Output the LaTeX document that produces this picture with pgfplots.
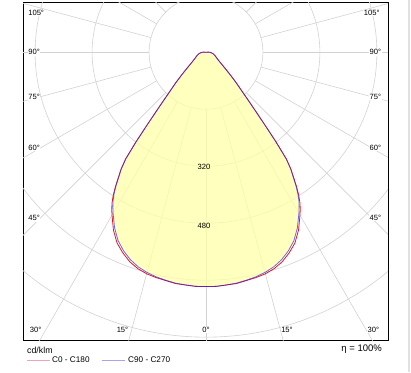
\documentclass[border=0pt]{standalone}
\usepackage{pgfplots}
\pgfplotsset{compat=1.18}
\usepackage{pgfplotstable}
\usepackage{fontspec}
\setmainfont{Liberation Sans}
\definecolor{gridc}{RGB}{210,210,210}
\definecolor{fillc}{RGB}{255,255,168}
\definecolor{cred}{RGB}{230,20,40}
\definecolor{cblue}{RGB}{50,40,230}
\definecolor{lred}{RGB}{235,165,185}
\definecolor{lblue}{RGB}{165,165,235}
\definecolor{sidegray}{RGB}{225,225,225}

% phi = polar angle (deg, 270 = nadir), b = C90-C270, r = C0-C180 (cd/klm)
\pgfplotstableread{
phi b r
160 0 0
170 3 3
175 7 7
180 12 12
190 20 20
200 27 27
210 37 37
215 48 48
220 70 70
222.5 90 90
225 118 118
227.5 155 155
229 190 190
230 222 222
231 265 265
232 320 320
233 375 375
234 405 406
235 427 429
236 452 455
237 474 478
238 493 498
239 508 514
240 522 528
242.5 556 563
245 584 591
247.5 604 610
250 620 626
252.5 632 637
255 640 644
257.5 646 648
260 650 651
262.5 654 655
265 656 656
267.5 658 658
270 658 658
272.5 658 658
275 656 656
277.5 654 655
280 650 651
282.5 646 648
285 640 644
287.5 632 637
290 620 626
292.5 604 610
295 584 591
297.5 556 563
300 522 528
301 508 514
302 493 498
303 474 478
304 452 455
305 427 429
306 405 406
307 375 375
308 320 320
309 265 265
310 222 222
311 190 190
312.5 155 155
315 118 118
317.5 90 90
320 70 70
325 48 48
330 37 37
340 27 27
350 20 20
360 12 12
365 7 7
370 3 3
380 0 0
}\curve

\begin{document}
\begin{tikzpicture}[x=1pt,y=1pt,font=\fontsize{7.6}{9}\selectfont]
\useasboundingbox (0,0) rectangle (411,372);
\draw[sidegray, line width=1.2pt] (409,0) -- (409,372);
\begin{axis}[
  at={(23pt,32pt)}, anchor=south west,
  x=0.356pt, y=0.356pt,
  xmin=-514, xmax=511, ymin=-808, ymax=141,
  xtick=\empty, ytick=\empty,
  axis line style={black, line width=0.7pt},
  clip=true,
]
\draw[gridc, line width=0.6pt] (axis cs:0,0) circle[radius=160];
\draw[gridc, line width=0.6pt] (axis cs:0,0) circle[radius=320];
\draw[gridc, line width=0.6pt] (axis cs:0,0) circle[radius=480];
\draw[gridc, line width=0.6pt] (axis cs:0,0) circle[radius=640];
\draw[gridc, line width=0.6pt] (axis cs:0,0) circle[radius=800];
\pgfplotsinvokeforeach{0,15,...,345}{
  \addplot[gridc, line width=0.6pt, data cs=polar, forget plot] coordinates {(#1,160) (#1,1300)};
}
\addplot[draw=none, fill=fillc, fill opacity=0.75, data cs=polar, forget plot] table[x=phi,y=b] {\curve};
\addplot[cred, line width=0.8pt, line join=round, data cs=polar] table[x=phi,y=r] {\curve};
\addplot[cblue, line width=0.8pt, line join=round, opacity=0.7, data cs=polar] table[x=phi,y=b] {\curve};
\end{axis}
% angle labels
\begin{scope}[every node/.style={fill=white, inner sep=0.6pt}]
\node[anchor=west] at (27.5,359) {105°};
\node[anchor=west] at (27.5,319.7) {90°};
\node[anchor=west] at (27.5,275) {75°};
\node[anchor=west] at (27.5,224.3) {60°};
\node[anchor=west] at (27.5,153.7) {45°};
\node[anchor=west] at (29,42) {30°};
\node at (122.5,42) {15°};
\node at (206,42) {0°};
\node at (287,42) {15°};
\node[anchor=east] at (380,42) {30°};
\node[anchor=east] at (382,154) {45°};
\node[anchor=east] at (382,224.3) {60°};
\node[anchor=east] at (382,275) {75°};
\node[anchor=east] at (382,319.7) {90°};
\node[anchor=east] at (380.5,359) {105°};
\end{scope}
\node at (204,204.7) {320};
\node at (204,146) {480};
% bottom legend
\node[anchor=west, inner sep=0pt, font=\fontsize{8.8}{10}\selectfont] at (27,21.3) {cd/klm};
\draw[lred, line width=0.9pt] (27,12) -- (50,12);
\node[anchor=west, inner sep=0pt, font=\fontsize{8.2}{10}\selectfont] at (52,12) {C0 - C180};
\draw[lblue, line width=0.9pt] (101.7,12) -- (125,12);
\node[anchor=west, inner sep=0pt, font=\fontsize{8.2}{10}\selectfont] at (128,12) {C90 - C270};
\node[anchor=east, inner sep=0pt, font=\fontsize{9.5}{11}\selectfont] at (382,22.7) {η = 100\%};
\end{tikzpicture}
\end{document}
